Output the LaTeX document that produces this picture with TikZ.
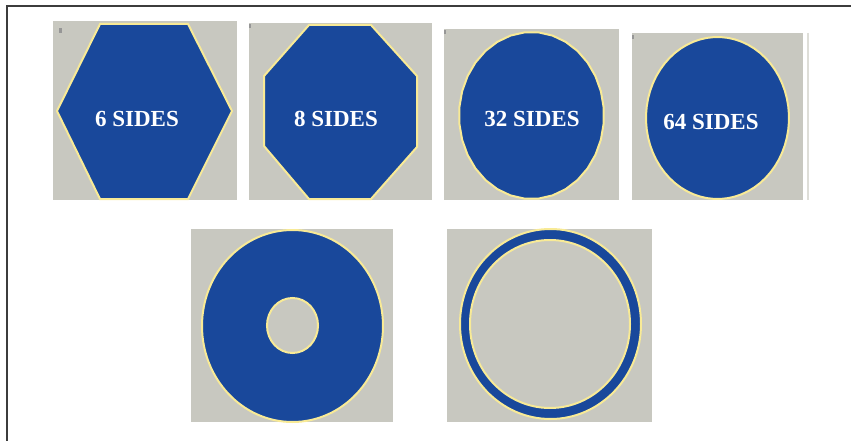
\documentclass[tikz,border=0pt]{standalone}
\usepackage{fontspec}
\setmainfont{Liberation Serif}
\definecolor{panelblue}{RGB}{25,72,155}
\definecolor{panelgray}{RGB}{200,200,192}
\definecolor{rimyellow}{RGB}{248,234,150}
\definecolor{framegray}{RGB}{60,60,60}
\definecolor{markgray}{RGB}{150,150,150}
\definecolor{edgegray}{RGB}{222,222,216}
\begin{document}
\begin{tikzpicture}[x=1pt,y=-1pt,
  panel/.style={fill=panelgray},
  shapefill/.style={fill=panelblue, draw=rimyellow, line width=2pt},
  rim/.style={draw=rimyellow, line width=2pt},
  lbl/.style={text=white, font=\fontsize{23}{26}\selectfont\bfseries, inner sep=0pt},
  tick/.style={fill=markgray}]
\useasboundingbox (0,0) rectangle (851,441);
% frame
\draw[framegray, line width=1.2pt] (7,441) -- (7,6) -- (851,6);
% panels
\fill[panel] (53,21) rectangle (237,200);
\fill[panel] (249,23) rectangle (432,200);
\fill[panel] (444,29) rectangle (619,200);
\fill[panel] (632,33) rectangle (803,200);
\fill[panel] (191,229) rectangle (393,422);
\fill[panel] (447,229) rectangle (652,422);
\draw[edgegray, line width=1.5pt] (808,33) -- (808,200);
% tiny corner marks
\fill[tick] (59,28) rectangle (62,33);
\fill[tick] (249,24) rectangle (251,28);
\fill[tick] (444,30) rectangle (446,34);
\fill[tick] (632,35) rectangle (634,39);
% hexagon
\path[shapefill] (100,24) -- (188,24) -- (232,111) -- (188,199) -- (100,199) -- (57,111) -- cycle;
\node[lbl] (hex) at (137,119) {6 SIDES};
% octagon
\path[shapefill] (309,25) -- (371,25) -- (417,76) -- (417,147) -- (371,199) -- (309,199) -- (264,146) -- (264,76) -- cycle;
\node[lbl] (oct) at (336,119) {8 SIDES};
% 32-gon
\path[shapefill] plot[samples=33, domain=5.625:365.625, variable=\t] ({531.5+72.5*cos(\t)}, {115.5+83.5*sin(\t)}) -- cycle;
\node[lbl] (tt) at (532,119) {32 SIDES};
% 64-gon
\path[shapefill] plot[samples=65, domain=2.8125:362.8125, variable=\t] ({717.5+71.5*cos(\t)}, {118+81*sin(\t)}) -- cycle;
\node[lbl] (sf) at (711,122) {64 SIDES};
% disc with hole
\path[fill=panelblue, even odd rule] (292.5,326) ellipse [x radius=90.5pt, y radius=96pt] (292.5,325.5) ellipse [x radius=25.5pt, y radius=27.5pt];
\draw[rim] (292.5,326) ellipse [x radius=90.5pt, y radius=96pt];
\draw[rim] (292.5,325.5) ellipse [x radius=25.5pt, y radius=27.5pt];
% thin ring
\path[fill=panelblue, even odd rule] (550.5,324) ellipse [x radius=90.5pt, y radius=95pt] (550,324) ellipse [x radius=80pt, y radius=84pt];
\draw[rim] (550.5,324) ellipse [x radius=90.5pt, y radius=95pt];
\draw[rim] (550,324) ellipse [x radius=80pt, y radius=84pt];
\end{tikzpicture}
\end{document}
